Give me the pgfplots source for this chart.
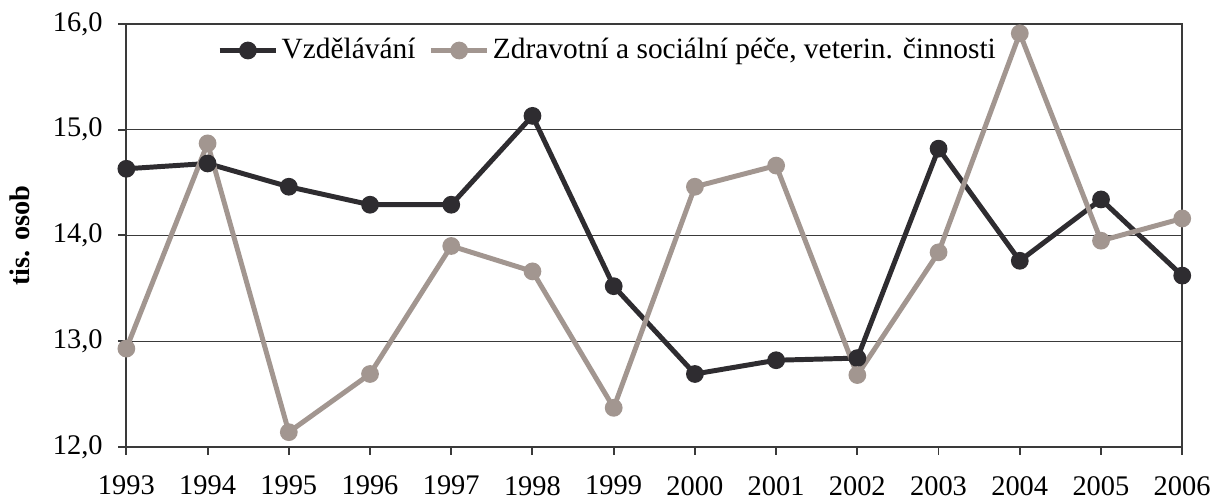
\documentclass[border=0pt]{standalone}
\usepackage{pgfplots}
\pgfplotsset{compat=1.18}
\usepackage{fontspec}
\setmainfont{Liberation Serif}
\definecolor{cdark}{HTML}{2E2C30}
\definecolor{cgray}{HTML}{A29690}
\definecolor{cframe}{HTML}{3A3A3A}
\begin{document}
\fontsize{14.3}{17}\selectfont
\begin{tikzpicture}
\begin{axis}[
  scale only axis,
  width=531.5pt, height=213pt,
  xmin=1993, xmax=2006, ymin=12, ymax=16,
  xtick={1993,...,2006},
  ytick={12,13,14,15,16},
  tick align=outside,
  major tick length=4pt,
  xtick pos=bottom, ytick pos=left,
  tick style={cframe, line width=1pt},
  axis line style={cframe, line width=1pt},
  ymajorgrids,
  grid style={cframe, line width=0.5pt},
  /pgf/number format/assume math mode=true,
  xticklabel style={inner ysep=0pt, yshift=-10.5pt, /pgf/number format/1000 sep={}},
  yticklabel style={xshift=-3pt, /pgf/number format/fixed, /pgf/number format/fixed zerofill, /pgf/number format/precision=1, /pgf/number format/use comma},
  ticklabel style={font=\fontsize{14.3}{17}\selectfont, text=black},
  ylabel={\textbf{tis. osob}},
  ylabel style={font=\fontsize{14.3}{17}\selectfont, yshift=2pt},
  legend style={at={(0.08,0.937)}, anchor=west, draw=none, fill=none,
    legend columns=2, font=\fontsize{14.8}{17}\selectfont,
    /tikz/every even column/.append style={column sep=5pt},
    nodes={inner sep=1.5pt}},
  legend image code/.code={
    \draw[#1, line width=2.5pt] (0cm,0cm) -- (1cm,0cm);
    \fill[#1] (0.5cm,0cm) circle (3.2pt);
  },
  clip=false,
]
\addplot[cdark, line width=2.5pt, mark=*, mark size=3.2pt, mark options={fill=cdark, draw=cdark}] coordinates {
(1993,14.63) (1994,14.68) (1995,14.46) (1996,14.29) (1997,14.29) (1998,15.13) (1999,13.52)
(2000,12.69) (2001,12.82) (2002,12.84) (2003,14.82) (2004,13.76) (2005,14.34) (2006,13.62)};
\addlegendentry{Vzdělávání}
\addplot[cgray, line width=2.5pt, mark=*, mark size=3.2pt, mark options={fill=cgray, draw=cgray}] coordinates {
(1993,12.93) (1994,14.87) (1995,12.14) (1996,12.69) (1997,13.90) (1998,13.66) (1999,12.37)
(2000,14.46) (2001,14.66) (2002,12.68) (2003,13.84) (2004,15.91) (2005,13.95) (2006,14.16)};
\addlegendentry{Zdravotní a sociální péče, veterin. činnosti}
\path (rel axis cs:0.5,1) ++(0pt,12pt);
\path (rel axis cs:0.5,0) ++(0pt,-26pt);
\end{axis}
\end{tikzpicture}
\end{document}
